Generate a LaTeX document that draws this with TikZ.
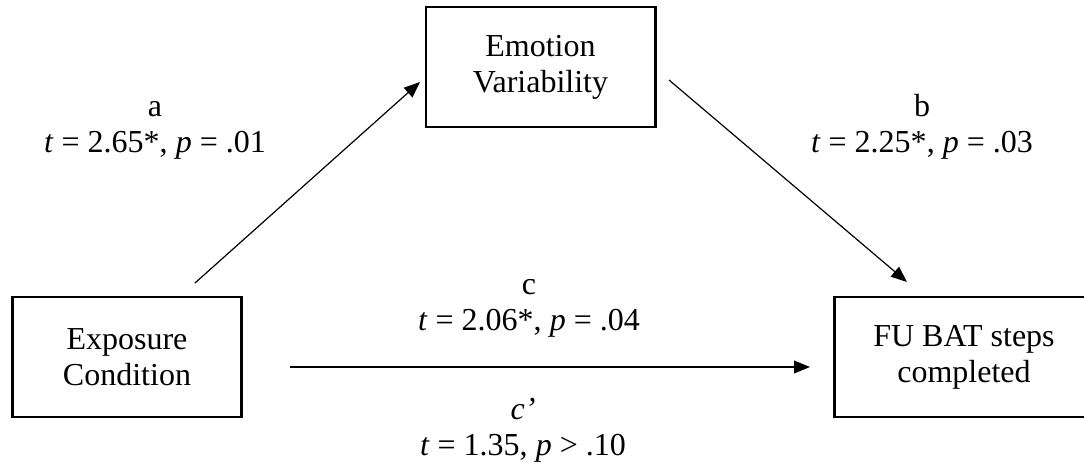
\documentclass[tikz,border=0pt]{standalone}
\usepackage{fontspec}
\setmainfont{Liberation Serif}
\usetikzlibrary{arrows.meta}

\begin{document}
\begin{tikzpicture}[x=0.375pt, y=-0.375pt, every node/.style={font=\fontsize{12}{13.5}\selectfont, align=center},
  varbox/.style={draw, line width=1.1pt, minimum width=85.9pt, minimum height=45pt, inner sep=0pt},
  link/.style={-{Triangle[length=6pt, width=4.8pt]}, line width=0.45pt}]
      \useasboundingbox (0,0) rectangle (1084,465);
      \node[varbox] (emotion) at (540.5,67) {Emotion\\Variability};
      \node[varbox] (exposure) at (127,357) {Exposure\\Condition};
      \node[varbox, minimum width=96.8pt] (fubat) at (964,357) {FU BAT steps\\completed};
      \coordinate (aS) at (195,283);
      \coordinate (aE) at (420,82);
      \coordinate (bS) at (669,80);
      \coordinate (bE) at (907,282);
      \coordinate (cS) at (290,367);
      \coordinate (cE) at (810,367);
      \draw[link] (aS) -- (aE);
      \draw[link] (bS) -- (bE);
      \draw[link] (cS) -- (cE);
      \node (alabel) at (155,130) {a\\\textit{t} = 2.65*, \textit{p} = .01};
      \node (blabel) at (922,127) {b\\\textit{t} = 2.25*, \textit{p} = .03};
      \node (clabel) at (529,308) {c\\\textit{t} = 2.06*, \textit{p} = .04};
      \node (cplabel) at (523,430) {\textit{c’}\\\textit{t} = 1.35, \textit{p} > .10};
    \end{tikzpicture}
\end{document}
